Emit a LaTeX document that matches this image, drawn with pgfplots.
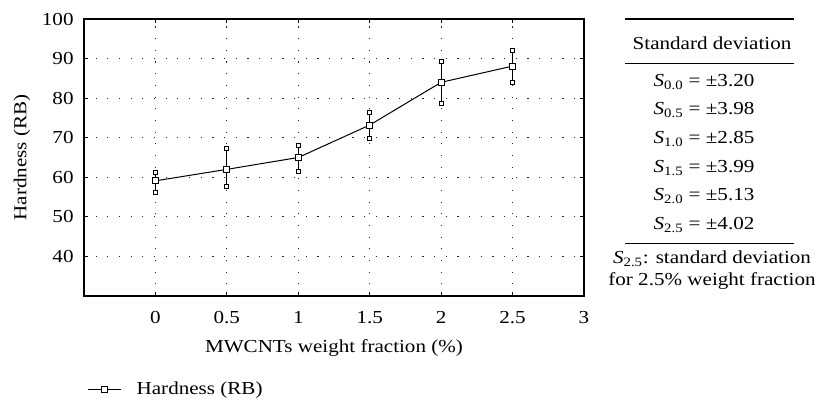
\documentclass[border=0pt]{standalone}
\usepackage{fontspec}
\setmainfont{Liberation Serif}[FakeStretch=1.15]
\usepackage{pgfplots}
\pgfplotsset{compat=1.18}

\newcommand{\srow}[2]{\textit{S}\textsubscript{#1} = ±#2}

\begin{document}
\fontsize{11}{13}\selectfont
\begin{tikzpicture}
\useasboundingbox (0,0) rectangle (492.6pt,241.2pt);
\begin{axis}[
  at={(50.4pt,63.6pt)}, anchor=south west,
  scale only axis,
  width=300pt, height=166.2pt,
  xmin=-0.5, xmax=3, ymin=30, ymax=100,
  xtick={0,0.5,1,1.5,2,2.5,3},
  xticklabels={0,0.5,1,1.5,2,2.5,3},
  ytick={40,50,60,70,80,90,100},
  /pgf/number format/assume math mode=true,
  axis line style={line width=0.7pt, black},
  tick style={black, line width=0.5pt},
  major tick length=2.5pt,
  grid=major,
  major grid style={black!85, line width=0.7pt, dash pattern=on 0.7pt off 6.3pt},
  xticklabel style={yshift=-5.5pt},
  yticklabel style={xshift=-2.4pt},
  xlabel={MWCNTs weight fraction (\%)},
  ylabel={Hardness (RB)},
  every axis x label/.style={at={(axis description cs:0.5,-0.188)}, anchor=center},
  every axis y label/.style={at={(axis description cs:-0.124,0.5)}, rotate=90, anchor=center},
  legend style={at={(axis description cs:0.006,-0.339)}, anchor=west,
                draw=none, fill=none, inner sep=0pt},
  legend image code/.code={
    \draw[mark repeat=2, mark phase=2, #1]
      plot coordinates {(0pt,0pt) (10pt,0pt) (20pt,0pt)};},
]
  \addplot[black, line width=0.6pt, mark=square*,
           mark options={fill=white, mark size=1.8pt, line width=0.5pt},
           error bars/.cd, y dir=both, y explicit,
           error bar style={black, line width=0.6pt},
           error mark=square*,
           error mark options={fill=white, draw=black, mark size=1.2pt, line width=0.5pt}]
  coordinates {
    (0,   59.1) += (0,2.2) -= (0,3.0)
    (0.5, 62.0) += (0,5.3) -= (0,4.2)
    (1,   65.0) += (0,3.1) -= (0,3.6)
    (1.5, 73.2) += (0,3.2) -= (0,3.5)
    (2,   84.0) += (0,5.2) -= (0,5.4)
    (2.5, 88.1) += (0,3.9) -= (0,4.2)
  };
  \addlegendentry{\hspace*{7pt}Hardness (RB)}
\end{axis}

% standard deviation table, in reference pixel units
\begin{scope}[x=0.6pt,y=0.6pt]
\draw[line width=0.7pt] (625,383) -- (794,383);
\node[anchor=base] at (712,352.5) {Standard deviation};
\draw[line width=0.7pt] (625,338.5) -- (794,338.5);
\node[anchor=base] at (704,315.5) {\srow{0.0}{3.20}};
\node[anchor=base] at (704,287)   {\srow{0.5}{3.98}};
\node[anchor=base] at (704,258.3) {\srow{1.0}{2.85}};
\node[anchor=base] at (704,229.7) {\srow{1.5}{3.99}};
\node[anchor=base] at (704,201)   {\srow{2.0}{5.13}};
\node[anchor=base] at (704,172.5) {\srow{2.5}{4.02}};
\draw[line width=0.7pt] (625,158.5) -- (794,158.5);
\node[anchor=base] at (712,138) {\textit{S}\textsubscript{2.5}: standard deviation};
\node[anchor=base] at (712,116) {for 2.5\% weight fraction};
\end{scope}
\end{tikzpicture}
\end{document}
